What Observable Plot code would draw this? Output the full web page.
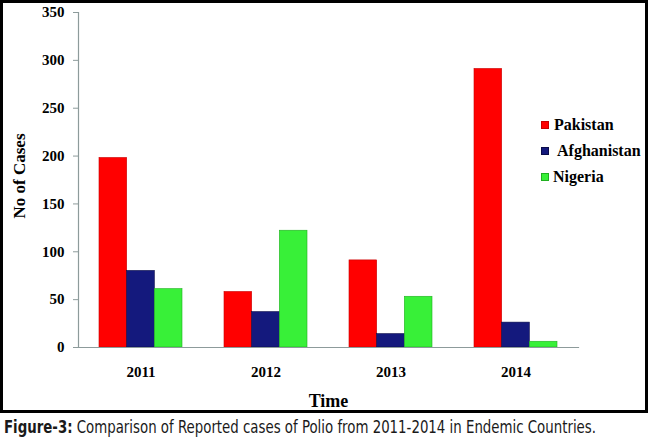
<!DOCTYPE html>
<html>
<head>
<meta charset="utf-8">
<script src="https://cdn.jsdelivr.net/npm/d3@7"></script>
<script src="https://cdn.jsdelivr.net/npm/@observablehq/plot@0.6"></script>
<style>
  html, body { margin: 0; padding: 0; background: #fff; }
  #wrap { position: relative; width: 650px; height: 446px; overflow: hidden; }
  #border { position: absolute; left: 0; top: 0; width: 648px; height: 413px; border: 3px solid #000; box-sizing: border-box; pointer-events: none; }
  #legend { position: absolute; left: 541px; top: 115px; font-family: "Liberation Serif", "Times New Roman", serif; font-weight: bold; font-size: 16px; color: #000; }
  .item { position: absolute; white-space: nowrap; height: 20px; line-height: 20px; }
  .sw { position: absolute; left: 0; top: 6px; width: 8px; height: 8px; box-sizing: border-box; }
  .lab { position: absolute; top: 0; }
  #caption { position: absolute; left: 4px; top: 417px; font-family: "Liberation Sans Narrow", "DejaVu Sans Condensed", "Roboto", sans-serif; font-size: 17px; color: #1a1a1a; white-space: nowrap; transform-origin: 0 0; }
  #caption b { font-weight: bold; }
  #chart svg text { font-family: "Liberation Serif", "Times New Roman", serif !important; }
  #chart svg g[aria-label="y-axis tick label"] { font-size: 15px; font-weight: bold; }
  #chart svg g[aria-label="x-axis tick label"] { font-size: 15px; font-weight: bold; }
</style>
</head>
<body>
<div id="wrap">
  <div id="chart"></div>
  <div id="legend"></div>
  <div id="border"></div>
  <div id="caption"></div>
</div>
<script>
// ---- data ----
const years = ["2011", "2012", "2013", "2014"];
const countries = ["Pakistan", "Afghanistan", "Nigeria"];
const pakistan = [198, 58, 91, 291];
const afghanistan = [80, 37, 14, 26];
const nigeria = [61, 122, 53, 6];
const yTicks = [0, 50, 100, 150, 200, 250, 300, 350];
const colors = ["#ff0000", "#14197d", "#38f038"];
const edgeColors = ["#c80000", "#0a0c4a", "#20b020"];
const yLabel = "No of Cases";
const xLabel = "Time";
const captionBold = "Figure-3:";
const captionText = " Comparison of Reported cases of Polio from 2011-2014 in Endemic Countries.";

const seriesValues = [pakistan, afghanistan, nigeria];
const table = [];
countries.forEach((c, ci) => years.forEach((y, yi) => table.push({year: y, country: c, cases: seriesValues[ci][yi]})));

const W = 650, H = 412;
const mL = 78, mR = 72, mT = 12, mB = 65;
const pInner = 0.336, pOuter = 0.168;
const step = (W - mL - mR) / (years.length - pInner + 2 * pOuter);
const bw = step * (1 - pInner);
const part = bw / countries.length;

const serif = "'Liberation Serif', 'Times New Roman', serif";
const axisGrey = "#8d9b9b";

const barMarks = countries.map((c, i) => Plot.barY(table.filter(d => d.country === c), {
  x: "year", y: "cases",
  fill: colors[i], stroke: edgeColors[i], strokeWidth: 0.6,
  insetLeft: i * part, insetRight: (countries.length - 1 - i) * part
}));

const chart = Plot.plot({
  width: W, height: H,
  marginLeft: mL, marginRight: mR, marginTop: mT, marginBottom: mB,
  style: {fontFamily: serif, background: "transparent"},
  x: {domain: years, paddingInner: pInner, paddingOuter: pOuter, axis: null},
  y: {domain: [0, 350], axis: null},
  marks: [
    ...barMarks,
    Plot.frame({anchor: "left", stroke: axisGrey, strokeWidth: 1.2}),
    Plot.frame({anchor: "bottom", stroke: axisGrey, strokeWidth: 1.2}),
    Plot.axisY({ticks: yTicks, tickSize: 5, tickPadding: 9, fontSize: 15, fontWeight: "bold", stroke: axisGrey, fill: "#000", label: null}),
    Plot.axisX({tickSize: 0, tickPadding: 19, fontSize: 15, fontWeight: "bold", fill: "#000", label: null}),
    Plot.text([yLabel], {text: d => d, frameAnchor: "left", textAnchor: "middle", rotate: -90, dx: -59, dy: -4, fontSize: 17, fontWeight: "bold", fill: "#000"}),
    Plot.text([xLabel], {text: d => d, frameAnchor: "bottom", dy: 59, fontSize: 18, fontWeight: "bold", fill: "#000"})
  ]
});
document.getElementById("chart").appendChild(chart);

// legend
const legend = document.getElementById("legend");
const labelX = [13, 16, 12];
countries.forEach((c, i) => {
  const item = document.createElement("div");
  item.className = "item";
  item.style.top = (i * 26) + "px";
  const sw = document.createElement("div");
  sw.className = "sw";
  sw.style.background = colors[i];
  sw.style.border = "1px solid " + edgeColors[i];
  const lab = document.createElement("span");
  lab.className = "lab";
  lab.style.left = labelX[i] + "px";
  lab.textContent = c;
  item.appendChild(sw); item.appendChild(lab);
  legend.appendChild(item);
});

// caption
const cap = document.getElementById("caption");
const b = document.createElement("b");
b.textContent = captionBold;
cap.appendChild(b);
cap.appendChild(document.createTextNode(captionText));
const capW = cap.getBoundingClientRect().width;
cap.style.transform = "scaleX(" + (592 / capW) + ")";
</script>
</body>
</html>
